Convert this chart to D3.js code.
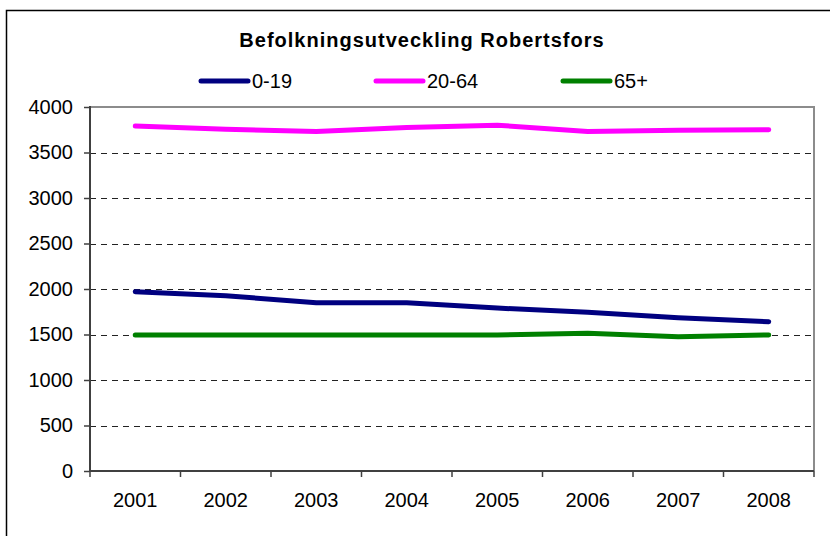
<!DOCTYPE html>
<html>
<head>
<meta charset="utf-8">
<script src="https://cdn.jsdelivr.net/npm/d3@7"></script>
<style>
  body { margin: 0; background: #fff; }
  svg { display: block; font-family: "Liberation Sans", Arial, sans-serif; }
</style>
</head>
<body>
<svg width="830" height="536"></svg>
<script>
var years = ["2001", "2002", "2003", "2004", "2005", "2006", "2007", "2008"];
var age0to19 = [1970, 1925, 1850, 1850, 1790, 1745, 1685, 1640];
var age20to64 = [3790, 3755, 3730, 3775, 3800, 3730, 3745, 3750];
var age65plus = [1495, 1495, 1495, 1495, 1495, 1515, 1475, 1495];
var yTicks = [0, 500, 1000, 1500, 2000, 2500, 3000, 3500, 4000];

var series = [
    { name: "0-19", values: age0to19, color: "#000080" },
    { name: "20-64", values: age20to64, color: "#ff00ff" },
    { name: "65+", values: age65plus, color: "#008000" }
];

var svg = d3.select("svg");

// outer chart frame, runs off the page on the right and bottom
svg.append("rect")
    .attr("x", 6.5).attr("y", 10.5)
    .attr("width", 840).attr("height", 540)
    .attr("fill", "none")
    .attr("stroke", "#000")
    .attr("stroke-width", 1.5);

var plotL = 90, plotR = 814, plotT = 107, plotB = 471;

var x = d3.scaleBand().domain(years).range([plotL, plotR]).padding(0);
var y = d3.scaleLinear().domain([0, 4000]).range([plotB, plotT]);

// grid
svg.append("g")
    .selectAll("line")
    .data(yTicks.filter(function (d) { return d > 0 && d < 4000; }))
    .enter().append("line")
    .attr("x1", plotL).attr("x2", plotR)
    .attr("y1", function (d) { return Math.round(y(d)) + 0.5; })
    .attr("y2", function (d) { return Math.round(y(d)) + 0.5; })
    .attr("stroke", "#222")
    .attr("stroke-dasharray", "6,5");

// plot border top/right
svg.append("path")
    .attr("d", "M" + plotL + "," + plotT + "H" + plotR + "V" + plotB)
    .attr("fill", "none")
    .attr("stroke", "#8c8c8c")
    .attr("stroke-width", 2);

// y axis
var yAxis = svg.append("g")
    .attr("transform", "translate(" + plotL + ",0)")
    .call(d3.axisLeft(y).tickValues(yTicks).tickFormat(d3.format("d")).tickSize(6).tickPadding(11));
// x axis
var xAxis = svg.append("g")
    .attr("transform", "translate(0," + plotB + ")")
    .call(d3.axisBottom(x).tickSize(0).tickPadding(22));

// x ticks sit at band edges
svg.append("g")
    .selectAll("line")
    .data(years.concat(["end"]))
    .enter().append("line")
    .attr("x1", function (d, i) { return plotL + i * x.bandwidth(); })
    .attr("x2", function (d, i) { return plotL + i * x.bandwidth(); })
    .attr("y1", plotB).attr("y2", plotB + 6)
    .attr("stroke", "#404040")
    .attr("stroke-width", 1.5);

[yAxis, xAxis].forEach(function (a) {
    a.select(".domain").attr("stroke", "#404040").attr("stroke-width", 2);
    a.selectAll(".tick line").attr("stroke", "#404040").attr("stroke-width", 1.5);
    a.selectAll("text").attr("font-size", 20).attr("fill", "#000")
        .attr("font-family", "Liberation Sans, Arial, sans-serif");
});
yAxis.select(".domain").attr("d", "M0," + (plotT - 1) + "V" + (plotB + 1));
xAxis.select(".domain").attr("d", "M" + plotL + ",0H" + plotR);

// lines
var line = d3.line()
    .x(function (d, i) { return x(years[i]) + x.bandwidth() / 2; })
    .y(function (d) { return y(d); });

svg.append("g")
    .selectAll("path")
    .data(series)
    .enter().append("path")
    .attr("d", function (d) { return line(d.values); })
    .attr("fill", "none")
    .attr("stroke", function (d) { return d.color; })
    .attr("stroke-width", 5)
    .attr("stroke-linecap", "round")
    .attr("stroke-linejoin", "round");

// title
svg.append("text")
    .attr("x", 422).attr("y", 47)
    .attr("text-anchor", "middle")
    .attr("font-size", 20)
    .attr("font-weight", "bold")
    .attr("letter-spacing", 1)
    .text("Befolkningsutveckling Robertsfors");

// legend
var legendX = [201, 376, 563];
var legend = svg.append("g")
    .selectAll("g")
    .data(series)
    .enter().append("g")
    .attr("transform", function (d, i) { return "translate(" + legendX[i] + ",81)"; });
legend.append("line")
    .attr("x1", 0).attr("x2", 47)
    .attr("stroke", function (d) { return d.color; })
    .attr("stroke-width", 5)
    .attr("stroke-linecap", "round");
legend.append("text")
    .attr("x", 51).attr("y", 7)
    .attr("font-size", 20)
    .text(function (d) { return d.name; });
</script>
</body>
</html>
